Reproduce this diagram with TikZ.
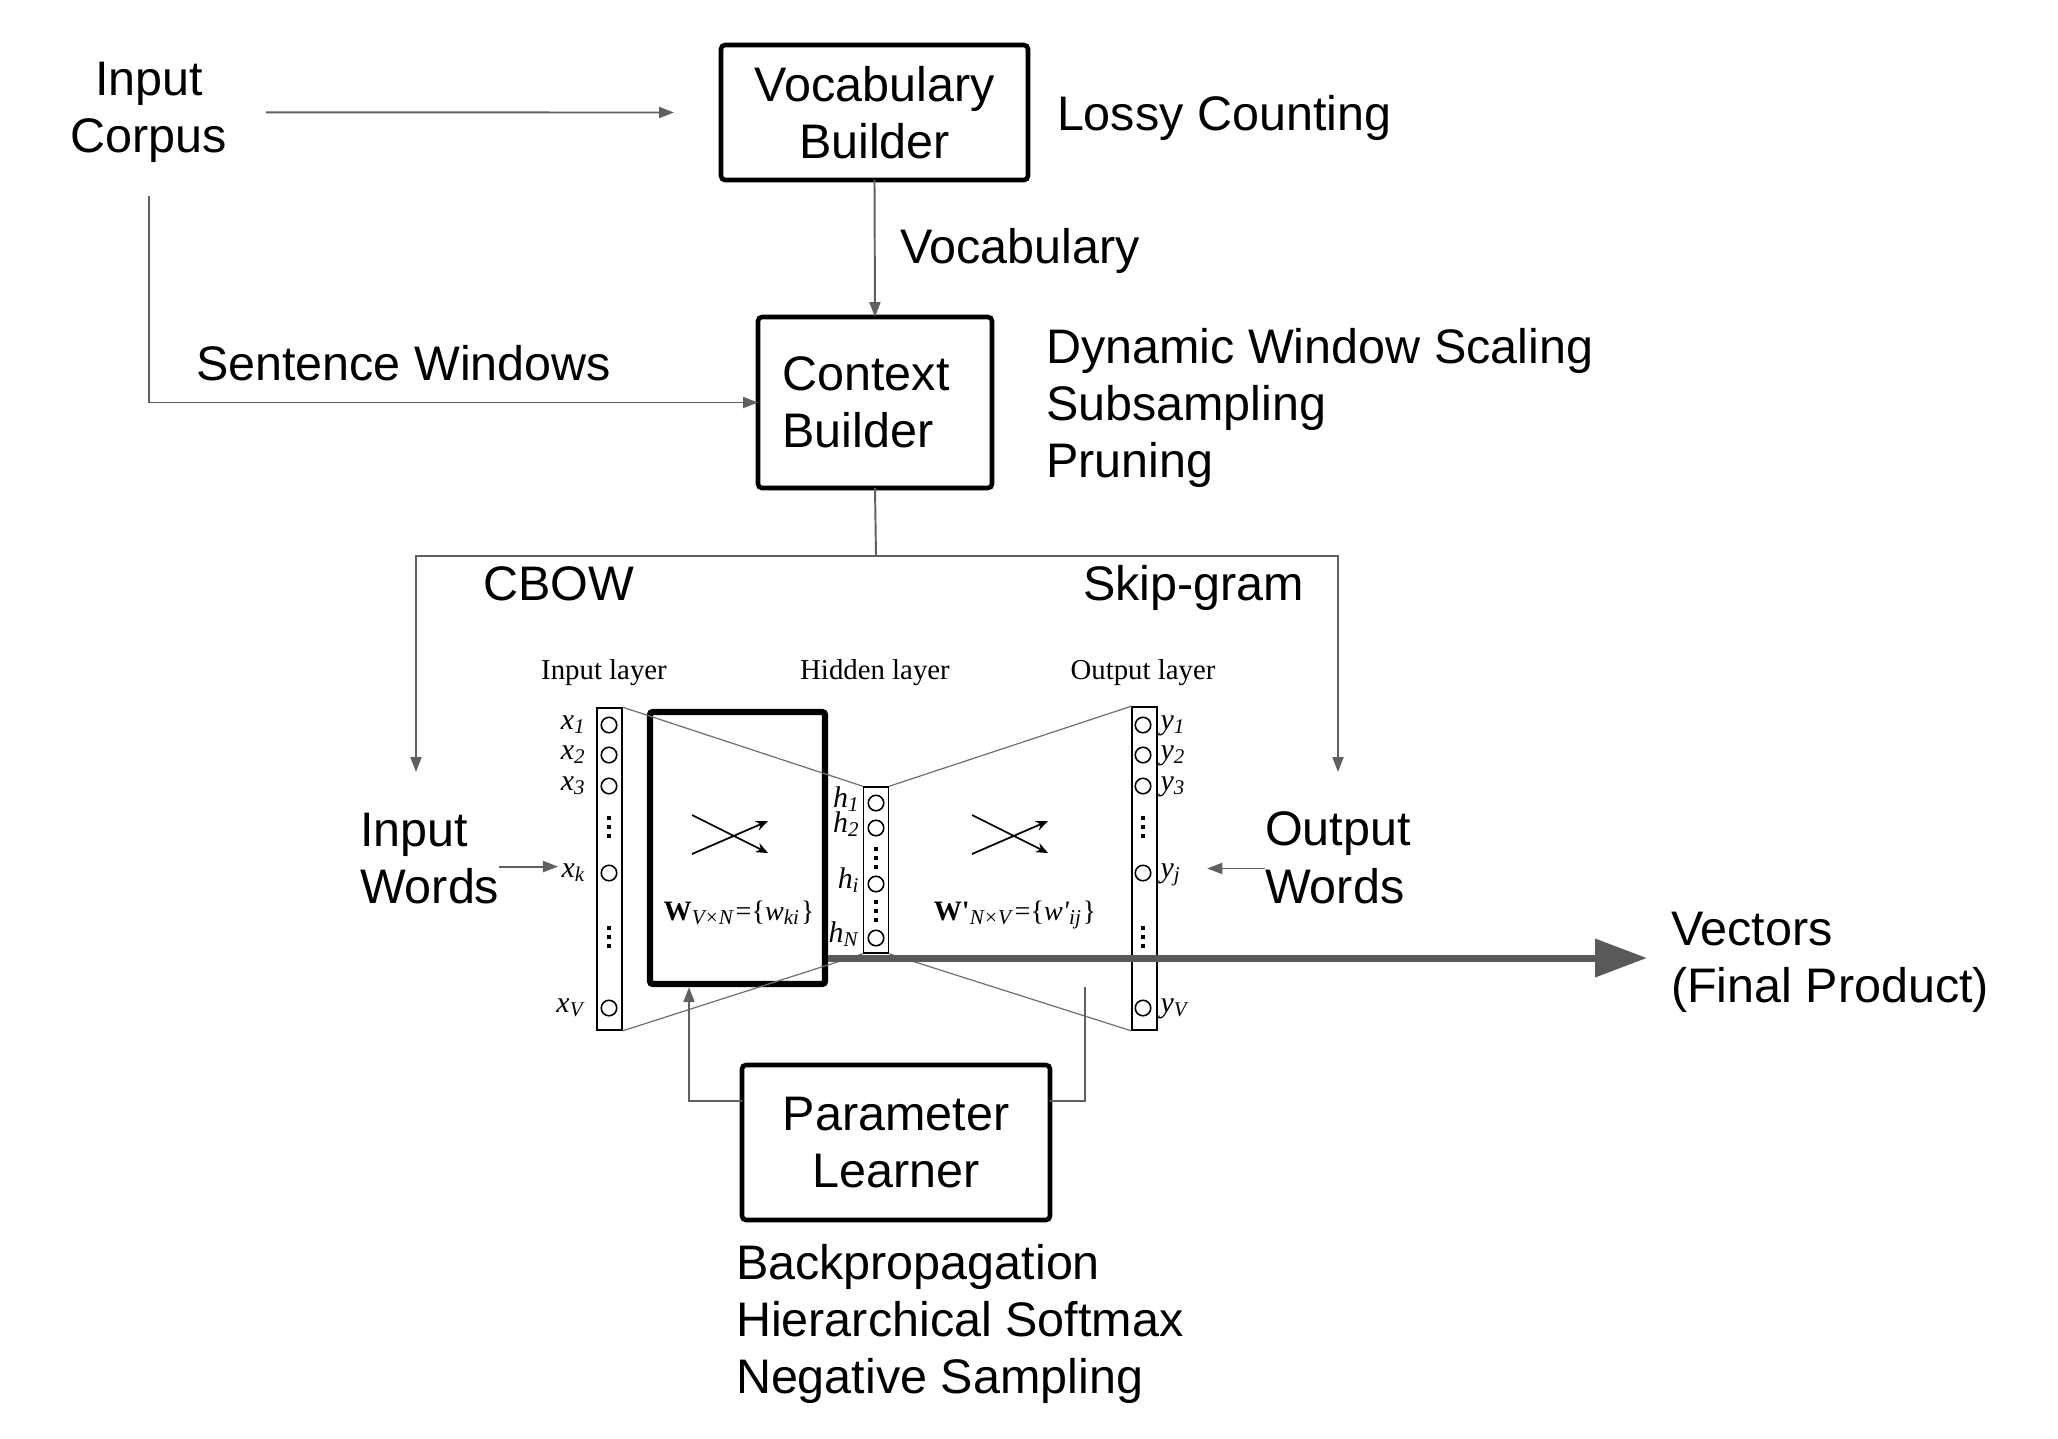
\documentclass[tikz,border=0pt]{standalone}
\usepackage{fontspec}
\setmainfont{Liberation Sans}
\newfontfamily\layerfont{Liberation Serif}
\usepackage{tikz}
\usetikzlibrary{arrows.meta}
\definecolor{linegray}{HTML}{606060}
\definecolor{webgray}{HTML}{707070}
\definecolor{arrowgray}{HTML}{595959}
\newcommand{\nnsub}[2]{\textit{#1}\textsubscript{\textit{#2}}}

\begin{document}
\begin{tikzpicture}[x=0.1mm, y=-0.1mm,
    txt/.style={inner sep=0pt, outer sep=0pt, font=\fontsize{13.8}{16.3}\selectfont},
    stagebox/.style={txt, draw, line width=1.3pt, rounded corners=0.4mm, align=center},
    link/.style={draw=linegray, line width=0.55pt},
    flow/.style={link, -{Triangle[length=1.5mm, width=1.1mm]}},
    bigflow/.style={draw=arrowgray, line width=2pt, -{Triangle[length=5.2mm, width=3.7mm]}},
    col/.style={draw, line width=0.45pt, inner sep=0pt, minimum width=2.5mm},
    unit/.style={circle, draw, line width=0.45pt, inner sep=0pt, minimum size=1.55mm},
    lbl/.style={inner sep=0pt, font=\layerfont\fontsize{8.5}{10}\selectfont},
    layerlbl/.style={inner sep=0pt, font=\layerfont\fontsize{8.2}{10}\selectfont},
    web/.style={draw=webgray, line width=0.35pt},
    crossarrow/.style={line width=0.5pt, -{Stealth[length=1.2mm, width=1mm]}}]
    \useasboundingbox (0,0) rectangle (2058,1438);

    % Nodes
    \node[txt, align=center, anchor=north] (corpus) at (149,62) {Input\\Corpus};
    \node[stagebox, minimum width=30.7mm, minimum height=13.5mm] (vocab) at (874.5,112.5) {Vocabulary\\Builder};
    \node[txt, anchor=base west] (lossy) at (1057,130) {Lossy Counting};
    \node[txt, anchor=base west] (vocabtxt) at (900,263) {Vocabulary};
    \node[stagebox, align=left, minimum width=23.4mm, minimum height=17.1mm] (ctx) at (875,402.5) {Context\hspace*{1.8mm}\\Builder};
    \node[txt, align=left, anchor=north west] (ctxopts) at (1046,328) {Dynamic Window Scaling\\Subsampling\\Pruning};
    \node[txt, anchor=base west] (sentwin) at (196,380) {Sentence Windows};
    \node[txt, anchor=base west] (cbow) at (483,600) {CBOW};
    \node[txt, anchor=base west] (skipgram) at (1083,600) {Skip-gram};
    \node[txt, align=left, anchor=north west] (inwords) at (360,813) {Input\\Words};
    \node[txt, align=left, anchor=north west] (outwords) at (1265,812) {Output\\Words};
    \node[txt, align=left, anchor=north west] (vecs) at (1671,912) {Vectors\\(Final Product)};
    \node[stagebox, minimum width=30.8mm, minimum height=15.5mm] (learner) at (896,1142.5) {Parameter\\Learner};
    \node[txt, align=left, anchor=north west] (learnopts) at (736,1244) {Backpropagation\\Hierarchical Softmax\\Negative Sampling};

    % Network
    \node[layerlbl, anchor=base] (inlayer) at (604,679) {Input layer};
    \node[layerlbl, anchor=base] (hidlayer) at (875,679) {Hidden layer};
    \node[layerlbl, anchor=base] (outlayer) at (1143,679) {Output layer};
    \node[col, minimum height=32.2mm] (incol) at (609.5,869) {};
    \node[col, minimum height=16.6mm] (hidcol) at (876,870) {};
    \node[col, minimum height=32.3mm] (outcol) at (1144.5,868.5) {};
    \node[draw, line width=1.8pt, rounded corners=0.3mm, minimum width=17.5mm, minimum height=27.2mm] (wbox) at (737.5,848) {};
    \foreach \n/\y/\sx/\sy in {1/725/1/1, 2/755/2/2, 3/786/3/3, 4/873/k/j, 5/1008/V/V} {
        \node[unit] (x\n) at (609,\y) {};
        \node[lbl, anchor=base east] (lx\n) at (587,\y+4) {\nnsub{x}{\sx}};
        \node[unit] (y\n) at (1143,\y) {};
        \node[lbl, anchor=base west] (ly\n) at (1160,\y+4) {\nnsub{y}{\sy}};
    }
    \foreach \n/\y/\s in {1/803/1, 2/828/2, 3/884/i, 4/938/N} {
        \node[unit] (h\n) at (876,\y) {};
        \node[lbl, anchor=base east] (lh\n) at (861,\y+4) {\nnsub{h}{\s}};
    }
    \foreach \x/\y in {609/827, 609/937, 876/858, 876/911, 1143/827, 1143/937}
        \foreach \d in {-9,0,9}
            \fill (\x-2,\y+\d-2) rectangle ++(4,4);
    \node[lbl, font=\layerfont\fontsize{8}{10}\selectfont, anchor=base] (wlbl) at (739,920) {\textbf{W}\nnsub{}{V×N}=\{\nnsub{w}{ki}\}};
    \node[lbl, font=\layerfont\fontsize{8}{10}\selectfont, anchor=base] (wplbl) at (1015,920) {\textbf{W'}\nnsub{}{N×V}=\{\nnsub{w'}{ij}\}};
    \coordinate (crossin) at (730,834);
    \coordinate (crossout) at (1010,834);
    \foreach \c in {crossin, crossout} {
        \draw[crossarrow] ([shift={(-38,-19)}]\c) -- ([shift={(38,19)}]\c);
        \draw[crossarrow] ([shift={(-38,20)}]\c) -- ([shift={(38,-13)}]\c);
    }
    \draw[web] (incol.north east) -- (hidcol.north west);
    \draw[web] (incol.south east) -- (hidcol.south west);
    \draw[web] (hidcol.north east) -- (outcol.north west);
    \draw[web] (hidcol.south east) -- (outcol.south west);

    % Lines
    \coordinate (fork) at (876,556);
    \coordinate (cbowend) at (416,772);
    \coordinate (skipend) at (1338,772);
    \coordinate (fbl) at (689,1101);
    \coordinate (fbr) at (1085,1101);
    \coordinate (fbtop) at (1085,987);
    \coordinate (vecline) at (0,958);
    \draw[flow, shorten <=3.9mm, shorten >=4.7mm] (corpus.east) -- (vocab.west);
    \draw[flow] (vocab.south) -- (ctx.north);
    \draw[flow] ([yshift=-3.3mm]corpus.south) |- (ctx.west);
    \draw[link] (ctx.south) -- (fork);
    \draw[flow] (fork) -| (cbowend);
    \draw[flow] (fork) -| (skipend);
    \draw[flow, shorten >=0.3mm] ([yshift=0.6mm]lx4.west -| inwords.east) -- ([yshift=0.6mm]lx4.west);
    \draw[flow, shorten >=2.5mm] ([yshift=0.6mm]ly4.east -| outwords.west) -- ([yshift=0.6mm]ly4.east);
    \draw[flow] (learner.west |- fbl) -| (wbox.south -| fbl);
    \draw[link] (learner.east |- fbr) -| (fbtop);
    \draw[bigflow, shorten >=2.4mm] (wbox.east |- vecline) -- (vecs.west |- vecline);
\end{tikzpicture}
\end{document}
